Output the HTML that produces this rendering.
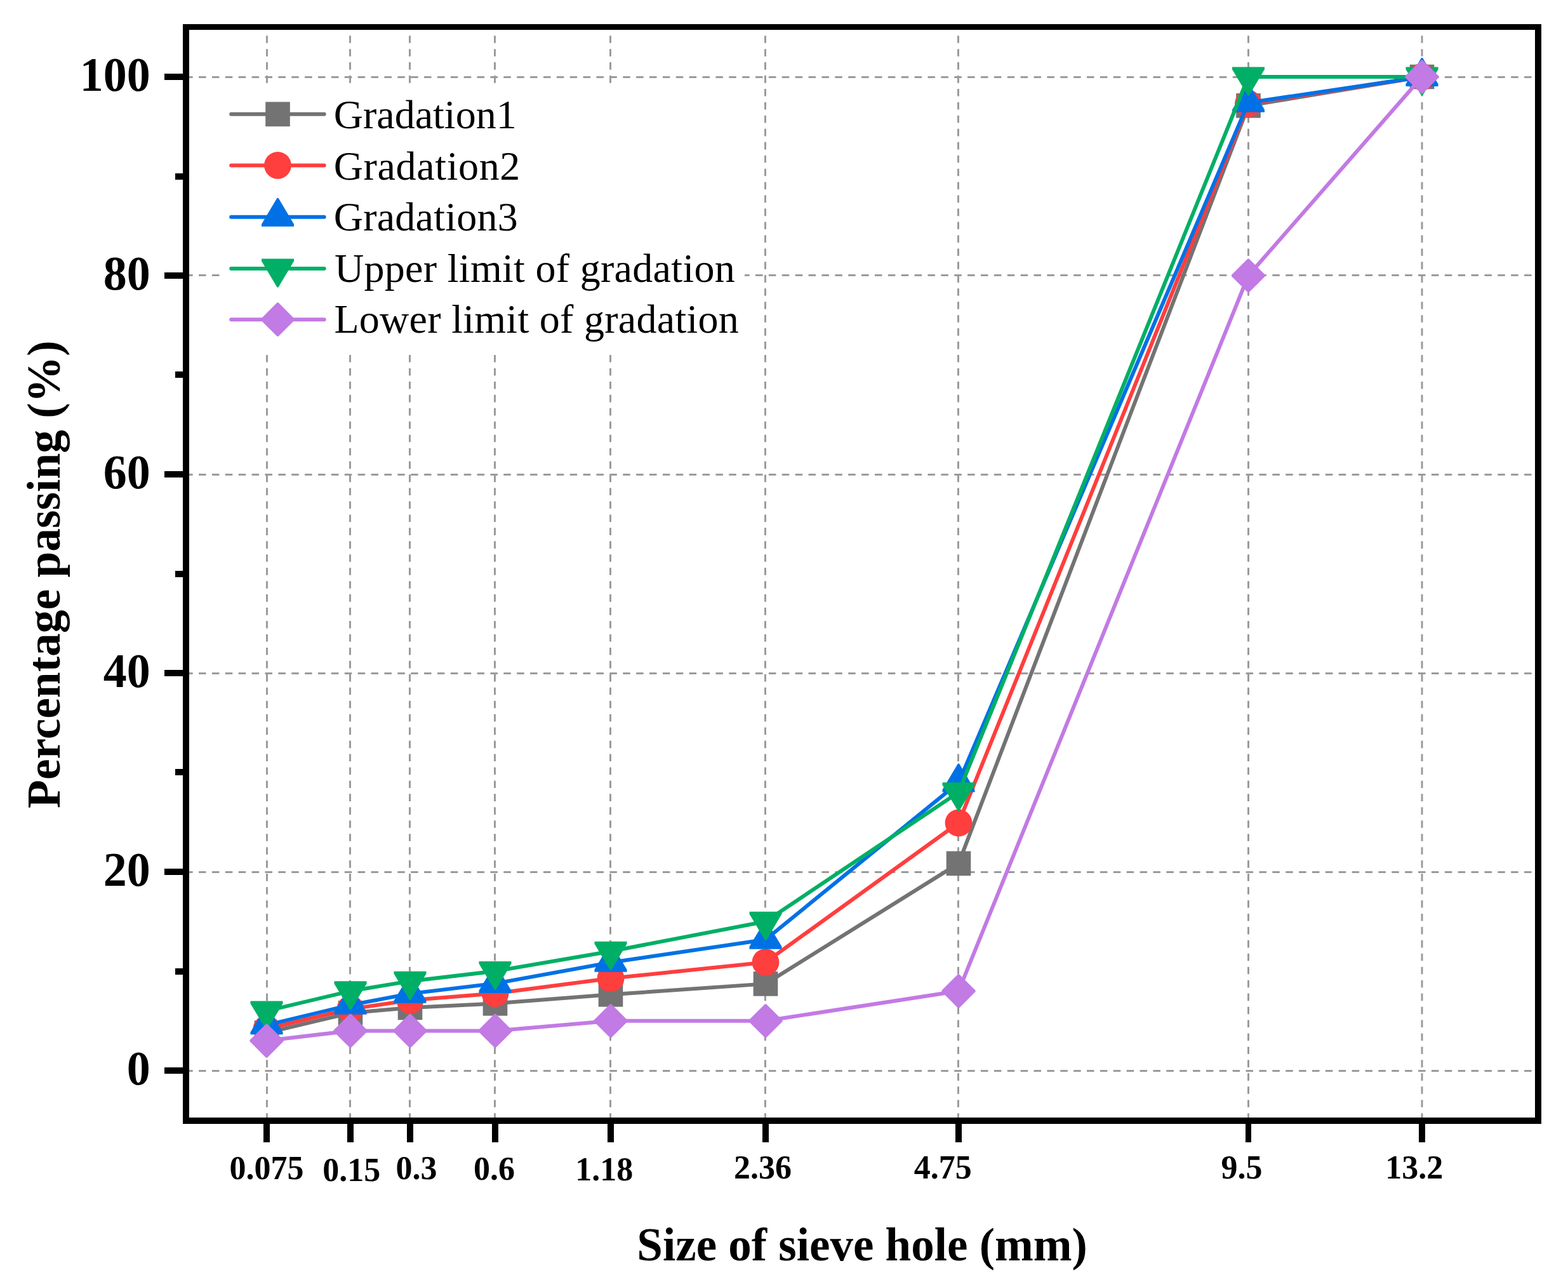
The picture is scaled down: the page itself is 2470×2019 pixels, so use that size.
<!DOCTYPE html><html><head><meta charset="utf-8"><title>Gradation curves</title>
<style>html,body{margin:0;padding:0;background:#fff;overflow:hidden;}svg{display:block;}text{font-family:"Liberation Serif","Times New Roman",serif;fill:#000;}.b{font-weight:bold;}</style></head><body>
<svg width="2470" height="2019" viewBox="0 0 2470 2019">
<rect x="0" y="0" width="2470" height="2019" fill="#fff"/>
<g stroke="#9B9B9B" stroke-width="3" fill="none">
<line x1="292.2" y1="1686.5" x2="2423" y2="1686.5" stroke-dasharray="11.5 9.38"/>
<line x1="292.2" y1="1373.5" x2="2423" y2="1373.5" stroke-dasharray="11.5 9.38"/>
<line x1="292.2" y1="1060.5" x2="2423" y2="1060.5" stroke-dasharray="11.5 9.38"/>
<line x1="292.2" y1="747.5" x2="2423" y2="747.5" stroke-dasharray="11.5 9.38"/>
<line x1="292.2" y1="433.5" x2="2423" y2="433.5" stroke-dasharray="11.5 9.38"/>
<line x1="292.2" y1="121.5" x2="2423" y2="121.5" stroke-dasharray="11.5 9.38"/>
<line x1="420.5" y1="56.2" x2="420.5" y2="1765" stroke-dasharray="11.6 9.35"/>
<line x1="551.5" y1="56.2" x2="551.5" y2="1765" stroke-dasharray="11.6 9.35"/>
<line x1="645.5" y1="56.2" x2="645.5" y2="1765" stroke-dasharray="11.6 9.35"/>
<line x1="779.5" y1="56.2" x2="779.5" y2="1765" stroke-dasharray="11.6 9.35"/>
<line x1="961.5" y1="56.2" x2="961.5" y2="1765" stroke-dasharray="11.6 9.35"/>
<line x1="1205.5" y1="56.2" x2="1205.5" y2="1765" stroke-dasharray="11.6 9.35"/>
<line x1="1509.5" y1="56.2" x2="1509.5" y2="1765" stroke-dasharray="11.6 9.35"/>
<line x1="1966.5" y1="56.2" x2="1966.5" y2="1765" stroke-dasharray="11.6 9.35"/>
<line x1="2240.0" y1="56.2" x2="2240.0" y2="1765" stroke-dasharray="11.6 9.35"/>
</g>
<polyline points="420.00,1626.53 552.00,1595.23 646.00,1586.94 780.00,1580.36 962.00,1566.28 1206.00,1549.38 1510.00,1359.85 1966.50,166.38 2240.00,121.00" fill="none" stroke="#737373" stroke-width="6" stroke-linejoin="round"/>
<rect x="400.70" y="1607.23" width="38.60" height="38.60" fill="#737373"/>
<rect x="532.70" y="1575.93" width="38.60" height="38.60" fill="#737373"/>
<rect x="626.70" y="1567.64" width="38.60" height="38.60" fill="#737373"/>
<rect x="760.70" y="1561.06" width="38.60" height="38.60" fill="#737373"/>
<rect x="942.70" y="1546.98" width="38.60" height="38.60" fill="#737373"/>
<rect x="1186.70" y="1530.08" width="38.60" height="38.60" fill="#737373"/>
<rect x="1490.70" y="1340.55" width="38.60" height="38.60" fill="#737373"/>
<rect x="1947.20" y="147.08" width="38.60" height="38.60" fill="#737373"/>
<rect x="2220.70" y="101.70" width="38.60" height="38.60" fill="#737373"/>
<polyline points="420.00,1620.27 552.00,1588.97 646.00,1575.35 780.00,1564.56 962.00,1540.77 1206.00,1515.41 1510.00,1296.00 1966.50,163.26 2240.00,121.00" fill="none" stroke="#FF3E3E" stroke-width="6" stroke-linejoin="round"/>
<circle cx="420.00" cy="1620.27" r="21.4" fill="#FF3E3E"/>
<circle cx="552.00" cy="1588.97" r="21.4" fill="#FF3E3E"/>
<circle cx="646.00" cy="1575.35" r="21.4" fill="#FF3E3E"/>
<circle cx="780.00" cy="1564.56" r="21.4" fill="#FF3E3E"/>
<circle cx="962.00" cy="1540.77" r="21.4" fill="#FF3E3E"/>
<circle cx="1206.00" cy="1515.41" r="21.4" fill="#FF3E3E"/>
<circle cx="1510.00" cy="1296.00" r="21.4" fill="#FF3E3E"/>
<circle cx="1966.50" cy="163.26" r="21.4" fill="#FF3E3E"/>
<circle cx="2240.00" cy="121.00" r="21.4" fill="#FF3E3E"/>
<polyline points="420.00,1614.32 552.00,1582.71 646.00,1564.87 780.00,1548.91 962.00,1515.73 1206.00,1479.73 1510.00,1232.62 1966.50,161.69 2240.00,121.00" fill="none" stroke="#0071E5" stroke-width="6" stroke-linejoin="round"/>
<polygon points="419.00,1584.32 421.00,1584.32 445.50,1625.46 445.50,1629.32 394.50,1629.32 394.50,1625.46" fill="#0071E5"/>
<polygon points="551.00,1552.71 553.00,1552.71 577.50,1593.85 577.50,1597.71 526.50,1597.71 526.50,1593.85" fill="#0071E5"/>
<polygon points="645.00,1534.87 647.00,1534.87 671.50,1576.01 671.50,1579.87 620.50,1579.87 620.50,1576.01" fill="#0071E5"/>
<polygon points="779.00,1518.91 781.00,1518.91 805.50,1560.04 805.50,1563.91 754.50,1563.91 754.50,1560.04" fill="#0071E5"/>
<polygon points="961.00,1485.73 963.00,1485.73 987.50,1526.87 987.50,1530.73 936.50,1530.73 936.50,1526.87" fill="#0071E5"/>
<polygon points="1205.00,1449.73 1207.00,1449.73 1231.50,1490.87 1231.50,1494.73 1180.50,1494.73 1180.50,1490.87" fill="#0071E5"/>
<polygon points="1509.00,1202.62 1511.00,1202.62 1535.50,1243.76 1535.50,1247.62 1484.50,1247.62 1484.50,1243.76" fill="#0071E5"/>
<polygon points="1965.50,131.69 1967.50,131.69 1992.00,172.83 1992.00,176.69 1941.00,176.69 1941.00,172.83" fill="#0071E5"/>
<polygon points="2239.00,91.00 2241.00,91.00 2265.50,132.14 2265.50,136.00 2214.50,136.00 2214.50,132.14" fill="#0071E5"/>
<polyline points="420.00,1592.10 552.00,1560.80 646.00,1545.15 780.00,1529.50 962.00,1498.20 1206.00,1451.25 1510.00,1247.80 1966.50,121.00 2240.00,121.00" fill="none" stroke="#00AF65" stroke-width="6" stroke-linejoin="round"/>
<polygon points="419.00,1621.60 421.00,1621.60 445.50,1580.46 445.50,1576.60 394.50,1576.60 394.50,1580.46" fill="#00AF65"/>
<polygon points="551.00,1590.30 553.00,1590.30 577.50,1549.16 577.50,1545.30 526.50,1545.30 526.50,1549.16" fill="#00AF65"/>
<polygon points="645.00,1574.65 647.00,1574.65 671.50,1533.51 671.50,1529.65 620.50,1529.65 620.50,1533.51" fill="#00AF65"/>
<polygon points="779.00,1559.00 781.00,1559.00 805.50,1517.86 805.50,1514.00 754.50,1514.00 754.50,1517.86" fill="#00AF65"/>
<polygon points="961.00,1527.70 963.00,1527.70 987.50,1486.56 987.50,1482.70 936.50,1482.70 936.50,1486.56" fill="#00AF65"/>
<polygon points="1205.00,1480.75 1207.00,1480.75 1231.50,1439.61 1231.50,1435.75 1180.50,1435.75 1180.50,1439.61" fill="#00AF65"/>
<polygon points="1509.00,1277.30 1511.00,1277.30 1535.50,1236.16 1535.50,1232.30 1484.50,1232.30 1484.50,1236.16" fill="#00AF65"/>
<polygon points="1965.50,150.50 1967.50,150.50 1992.00,109.36 1992.00,105.50 1941.00,105.50 1941.00,109.36" fill="#00AF65"/>
<polygon points="2239.00,150.50 2241.00,150.50 2265.50,109.36 2265.50,105.50 2214.50,105.50 2214.50,109.36" fill="#00AF65"/>
<polyline points="420.00,1639.05 552.00,1623.40 646.00,1623.40 780.00,1623.40 962.00,1607.75 1206.00,1607.75 1510.00,1560.80 1966.50,434.00 2240.00,121.00" fill="none" stroke="#C27AE4" stroke-width="6" stroke-linejoin="round"/>
<polygon points="419.00,1612.45 421.00,1612.45 446.60,1638.05 446.60,1640.05 421.00,1665.65 419.00,1665.65 393.40,1640.05 393.40,1638.05" fill="#C27AE4"/>
<polygon points="551.00,1596.80 553.00,1596.80 578.60,1622.40 578.60,1624.40 553.00,1650.00 551.00,1650.00 525.40,1624.40 525.40,1622.40" fill="#C27AE4"/>
<polygon points="645.00,1596.80 647.00,1596.80 672.60,1622.40 672.60,1624.40 647.00,1650.00 645.00,1650.00 619.40,1624.40 619.40,1622.40" fill="#C27AE4"/>
<polygon points="779.00,1596.80 781.00,1596.80 806.60,1622.40 806.60,1624.40 781.00,1650.00 779.00,1650.00 753.40,1624.40 753.40,1622.40" fill="#C27AE4"/>
<polygon points="961.00,1581.15 963.00,1581.15 988.60,1606.75 988.60,1608.75 963.00,1634.35 961.00,1634.35 935.40,1608.75 935.40,1606.75" fill="#C27AE4"/>
<polygon points="1205.00,1581.15 1207.00,1581.15 1232.60,1606.75 1232.60,1608.75 1207.00,1634.35 1205.00,1634.35 1179.40,1608.75 1179.40,1606.75" fill="#C27AE4"/>
<polygon points="1509.00,1534.20 1511.00,1534.20 1536.60,1559.80 1536.60,1561.80 1511.00,1587.40 1509.00,1587.40 1483.40,1561.80 1483.40,1559.80" fill="#C27AE4"/>
<polygon points="1965.50,407.40 1967.50,407.40 1993.10,433.00 1993.10,435.00 1967.50,460.60 1965.50,460.60 1939.90,435.00 1939.90,433.00" fill="#C27AE4"/>
<polygon points="2239.00,94.40 2241.00,94.40 2266.60,120.00 2266.60,122.00 2241.00,147.60 2239.00,147.60 2213.40,122.00 2213.40,120.00" fill="#C27AE4"/>
<rect x="350" y="135" width="823" height="420" fill="#fff"/>
<line x1="364.2" y1="179.80" x2="510.7" y2="179.80" stroke="#737373" stroke-width="6" stroke-linecap="round"/>
<rect x="418.20" y="160.50" width="38.60" height="38.60" fill="#737373"/>
<text x="525.67" y="202.00" font-size="64" textLength="287.97" lengthAdjust="spacing">Gradation1</text>
<line x1="364.2" y1="260.40" x2="510.7" y2="260.40" stroke="#FF3E3E" stroke-width="6" stroke-linecap="round"/>
<circle cx="437.50" cy="260.40" r="21.4" fill="#FF3E3E"/>
<text x="525.67" y="282.60" font-size="64" textLength="293.66" lengthAdjust="spacing">Gradation2</text>
<line x1="364.2" y1="341.80" x2="510.7" y2="341.80" stroke="#0071E5" stroke-width="6" stroke-linecap="round"/>
<polygon points="436.50,311.80 438.50,311.80 463.00,352.94 463.00,356.80 412.00,356.80 412.00,352.94" fill="#0071E5"/>
<text x="525.67" y="363.00" font-size="64" textLength="290.12" lengthAdjust="spacing">Gradation3</text>
<line x1="364.2" y1="422.90" x2="510.7" y2="422.90" stroke="#00AF65" stroke-width="6" stroke-linecap="round"/>
<polygon points="436.50,452.40 438.50,452.40 463.00,411.26 463.00,407.40 412.00,407.40 412.00,411.26" fill="#00AF65"/>
<text x="526.96" y="443.60" font-size="64" textLength="630.81" lengthAdjust="spacing">Upper limit of gradation</text>
<line x1="364.2" y1="503.20" x2="510.7" y2="503.20" stroke="#C27AE4" stroke-width="6" stroke-linecap="round"/>
<polygon points="436.50,476.60 438.50,476.60 464.10,502.20 464.10,504.20 438.50,529.80 436.50,529.80 410.90,504.20 410.90,502.20" fill="#C27AE4"/>
<text x="526.46" y="524.10" font-size="64" textLength="637.41" lengthAdjust="spacing">Lower limit of gradation</text>
<g fill="#000" shape-rendering="crispEdges">
<rect x="288" y="38" width="2140" height="9"/>
<rect x="288" y="1760" width="2140" height="10"/>
<rect x="288" y="38" width="10" height="1732"/>
<rect x="2418" y="38" width="10" height="1732"/>
<rect x="259" y="1681" width="29" height="10"/>
<rect x="276" y="1525" width="12" height="10"/>
<rect x="259" y="1368" width="29" height="10"/>
<rect x="276" y="1211" width="12" height="10"/>
<rect x="259" y="1055" width="29" height="10"/>
<rect x="276" y="899" width="12" height="10"/>
<rect x="259" y="742" width="29" height="10"/>
<rect x="276" y="585" width="12" height="10"/>
<rect x="259" y="429" width="29" height="10"/>
<rect x="276" y="273" width="12" height="10"/>
<rect x="259" y="116" width="29" height="10"/>
<rect x="415.0" y="1770" width="10" height="29"/>
<rect x="547.0" y="1770" width="10" height="29"/>
<rect x="641.0" y="1770" width="10" height="29"/>
<rect x="775.0" y="1770" width="10" height="29"/>
<rect x="957.0" y="1770" width="10" height="29"/>
<rect x="1201.0" y="1770" width="10" height="29"/>
<rect x="1505.0" y="1770" width="10" height="29"/>
<rect x="1962" y="1770" width="9" height="29"/>
<rect x="2235.0" y="1770" width="10" height="29"/>
</g>
<text class="b" transform="translate(199.82,1708.25) scale(1,1.035)" font-size="74">0</text>
<text class="b" transform="translate(162.82,1395.25) scale(1,1.035)" font-size="74">20</text>
<text class="b" transform="translate(162.82,1082.25) scale(1,1.035)" font-size="74">40</text>
<text class="b" transform="translate(162.82,769.25) scale(1,1.035)" font-size="74">60</text>
<text class="b" transform="translate(162.82,456.25) scale(1,1.035)" font-size="74">80</text>
<text class="b" transform="translate(125.82,143.25) scale(1,1.035)" font-size="74">100</text>
<text class="b" x="361.51" y="1857.26" font-size="52">0.075</text>
<text class="b" x="508.36" y="1859.86" font-size="52">0.15</text>
<text class="b" x="623.45" y="1856.96" font-size="52">0.3</text>
<text class="b" x="746.02" y="1857.76" font-size="52">0.6</text>
<text class="b" x="906.28" y="1858.86" font-size="52">1.18</text>
<text class="b" x="1156.02" y="1855.96" font-size="52">2.36</text>
<text class="b" x="1439.70" y="1855.96" font-size="52">4.75</text>
<text class="b" x="1923.39" y="1855.96" font-size="52">9.5</text>
<text class="b" x="2182.29" y="1855.96" font-size="52">13.2</text>
<text class="b" x="1003.36" y="1985.46" font-size="73">Size of sieve hole (mm)</text>
<text class="b" transform="translate(94,1272.94) rotate(-90)" x="0" y="0" font-size="73.4">Percentage passing (%)</text>
</svg></body></html>
